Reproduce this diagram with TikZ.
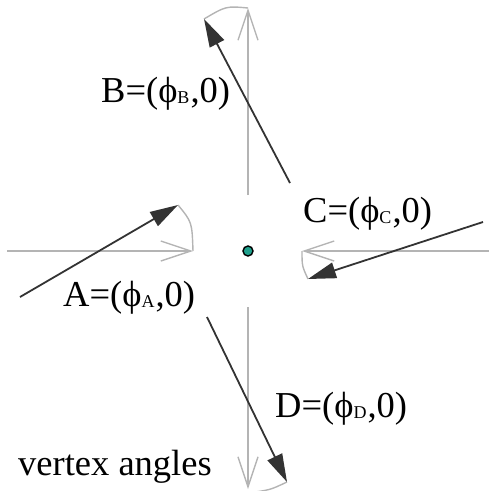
\documentclass[tikz,border=0pt]{standalone}
\usepackage{fontspec}
\setmainfont{Liberation Serif}
\usetikzlibrary{arrows.meta}
\definecolor{axisgray}{HTML}{B4B4B4}
\definecolor{vecdark}{HTML}{333333}
\definecolor{dotteal}{HTML}{1FA08C}
\newcommand\vlab[1]{#1=(ϕ{\fontsize{18pt}{18pt}\selectfont\raisebox{-1pt}{#1}}\kern1pt,0)}
\begin{document}
\begin{tikzpicture}[x=1pt,y=-1pt,
  axis/.style={draw=axisgray,line width=1.4pt,-{Straight Barb[length=30pt,width=20pt,line width=1.4pt]}},
  anglearc/.style={draw=axisgray,line width=1.4pt},
  vec/.style={draw=vecdark,line width=1.8pt,-{Triangle[length=28pt,width=16pt]}},
  lab/.style={anchor=base west,inner sep=0pt,font=\fontsize{36.5pt}{36.5pt}\selectfont}]
\useasboundingbox (0,0) rectangle (489,491);
\clip (0,0) rectangle (489,491);
% axis end points
\coordinate (lS) at (7,251);   \coordinate (lT) at (193,251);
\coordinate (rS) at (489,251); \coordinate (rT) at (302,251);
\coordinate (tS) at (248,195); \coordinate (tT) at (248,8);
\coordinate (bS) at (248,307); \coordinate (bT) at (248,489);
% vector end points
\coordinate (aS) at (20,297);  \coordinate (aT) at (178,205);
\coordinate (bbS) at (290,183); \coordinate (bbT) at (204,19);
\coordinate (cS) at (483,222); \coordinate (cT) at (308,279);
\coordinate (dS) at (207,317); \coordinate (dT) at (287,482);
% axes
\draw[axis] (lS) -- (lT);
\draw[axis] (rS) -- (rT);
\draw[axis] (tS) -- (tT);
\draw[axis] (bS) -- (bT);
% angle arcs
\draw[anglearc] (aT) .. controls (192,222) .. (lT);
\draw[anglearc] (bbT) .. controls (226,6) .. (tT);
\draw[anglearc] (rT) .. controls (302,266) .. (cT);
\draw[anglearc] (dT) .. controls (270,490) .. (248,493);
% vectors
\draw[vec] (aS) -- (aT);
\draw[vec] (bbS) -- (bbT);
\draw[vec] (cS) -- (cT);
\draw[vec] (dS) -- (dT);
% centre
\node[circle,draw=black,line width=1.4pt,fill=dotteal,minimum size=10pt,inner sep=0pt] (ctr) at (248,251) {};
% labels
\node[lab] (labB) at (101,102) {\vlab{B}};
\node[lab] (labC) at (303,222) {\vlab{C}};
\node[lab] (labA) at (63,306) {\vlab{A}};
\node[lab] (labD) at (275,417) {\vlab{D}};
\node[lab] (labV) at (18,475) {vertex angles};
\end{tikzpicture}
\end{document}
